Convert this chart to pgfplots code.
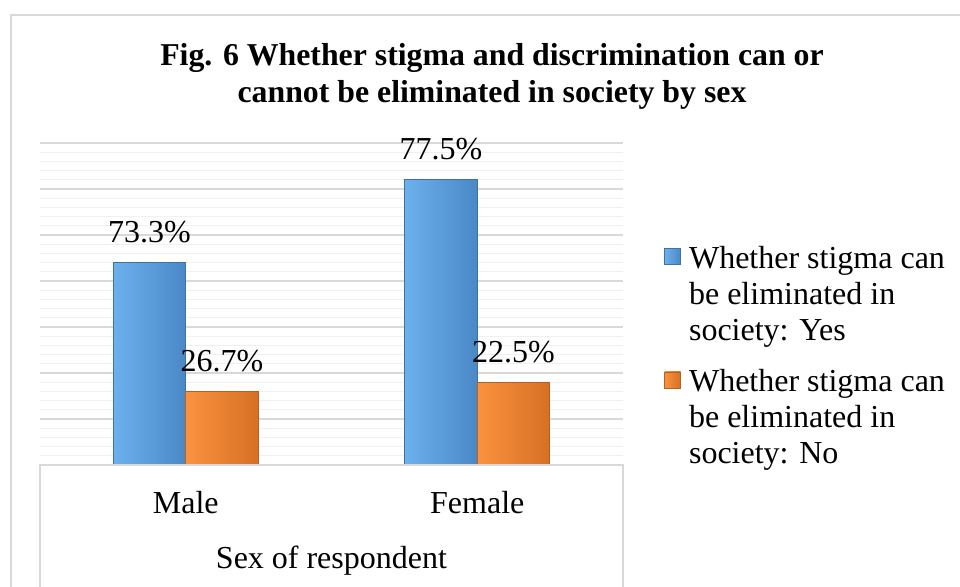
\documentclass[border=0pt]{standalone}
\usepackage{pgfplots}
\pgfplotsset{compat=1.18}
\usepackage{fontspec}
\setmainfont{Liberation Serif}
\definecolor{gridmaj}{HTML}{D9D9D9}
\definecolor{gridmin}{HTML}{F0F0F0}
\definecolor{frame}{HTML}{D9D9D9}
\definecolor{blueL}{HTML}{6CB0EE}
\definecolor{blueM}{HTML}{5EA2E2}
\definecolor{blueR}{HTML}{4A88C6}
\definecolor{blueE}{HTML}{41719C}
\definecolor{orL}{HTML}{FA9240}
\definecolor{orM}{HTML}{F0832F}
\definecolor{orR}{HTML}{D87024}
\definecolor{orE}{HTML}{B5611F}
\pgfplotsset{
  bluebar/.style={draw=blueE, line width=0.4pt, left color=blueL, middle color=blueM, right color=blueR},
  orbar/.style={draw=orE, line width=0.4pt, left color=orL, middle color=orM, right color=orR},
}
\begin{document}
\begin{tikzpicture}
\useasboundingbox (-20pt,-60.5pt) rectangle (460pt,232.5pt);
\draw[frame, line width=1.2pt] (-14.5pt,-61pt) -- (-14.5pt,225pt) -- (461pt,225pt);
\begin{axis}[
  at={(0,0)}, anchor=south west,
  scale only axis, width=291.5pt, height=161pt,
  xmin=-0.5, xmax=1.5, ymin=0, ymax=70,
  axis line style={draw=none},
  major tick length=0pt, minor tick length=0pt,
  ytick={0,10,...,70}, minor ytick={2,4,6,8,12,14,16,18,22,24,26,28,32,34,36,38,42,44,46,48,52,54,56,58,62,64,66,68},
  yticklabels={},
  ymajorgrids, yminorgrids,
  major grid style={gridmaj, line width=0.8pt},
  minor grid style={gridmin, line width=0.6pt},
  xtick={0,1}, xticklabels={Male,Female},
  xticklabel style={anchor=base, yshift=-24pt, font=\fontsize{16}{18}\selectfont},
  xlabel={Sex of respondent},
  xlabel style={at={(axis description cs:0.5,0)}, anchor=base, yshift=-51.5pt, font=\fontsize{16}{18}\selectfont},
  bar width=36.25pt,
  point meta=explicit symbolic,
  nodes near coords,
  nodes near coords style={anchor=base, yshift=10pt, inner sep=0pt, font=\fontsize{16}{18}\selectfont},
  legend style={at={(axis description cs:1.0703,0.692)}, anchor=north west, draw=none, fill=none,
    font=\fontsize{16}{18}\selectfont, cells={align=left}, row sep=9pt, inner sep=0pt},
  legend cell align=left,
  legend image code/.code={\draw[#1, line width=0.3pt] (0pt,15.25pt) rectangle (8pt,23.25pt); \path (10pt,0pt);},
  clip=false,
]
\addlegendimage{bluebar}
\addlegendentry{Whether stigma can\\be eliminated in\\society: Yes}
\addlegendimage{orbar}
\addlegendentry{Whether stigma can\\be eliminated in\\society: No}
\addplot[ybar, bar shift=-18.125pt, bluebar, forget plot, nodes near coords style={xshift=-18.125pt}] coordinates {(0,44) [73.3\%]};
\addplot[ybar, bar shift=-18.125pt, bluebar, forget plot, nodes near coords style={xshift=-18.125pt}] coordinates {(1,62) [77.5\%]};
\addplot[ybar, bar shift=18.125pt, orbar, forget plot, nodes near coords style={xshift=18.125pt}] coordinates {(0,16) [26.7\%]};
\addplot[ybar, bar shift=18.125pt, orbar, forget plot, nodes near coords style={xshift=18.125pt}] coordinates {(1,18) [22.5\%]};
\end{axis}
\draw[gridmaj, line width=0.8pt] (0pt,-61pt) -- (0pt,0pt) -- (291.5pt,0pt) -- (291.5pt,-61pt);
\node[anchor=base, font=\bfseries\fontsize{15.9}{18}\selectfont] at (226pt,200pt) {Fig. 6 Whether stigma and discrimination can or};
\node[anchor=base, font=\bfseries\fontsize{15.9}{18}\selectfont] at (226pt,181.5pt) {cannot be eliminated in society by sex};
\end{tikzpicture}
\end{document}
